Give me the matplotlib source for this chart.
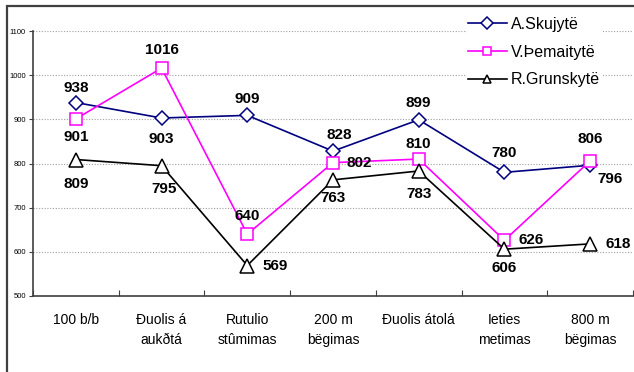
import matplotlib
matplotlib.use("Agg")
import matplotlib.pyplot as plt
from matplotlib.patches import Rectangle

categories = ["100 b/b", "Đuolis á\naukðtá", "Rutulio\nstûmimas", "200 m\nbëgimas",
              "Đuolis átolá", "Ieties\nmetimas", "800 m\nbëgimas"]
names = ["A.Skujytë", "V.Þemaitytë", "R.Grunskytë"]
skujyte = [938, 903, 909, 828, 899, 780, 796]
zemaityte = [901, 1016, 640, 802, 810, 626, 806]
grunskyte = [809, 795, 569, 763, 783, 606, 618]
yticks = [500, 600, 700, 800, 900, 1000, 1100]

plt.rcParams['font.family'] = ['Liberation Sans', 'DejaVu Sans']

W, H = 634, 372
fig = plt.figure(figsize=(W/100, H/100), dpi=100)

# outer frame
fig.patches.append(Rectangle((7/W, -0.05), 1.1, (H-6)/H + 0.05, transform=fig.transFigure,
                             fill=False, edgecolor='#404040', linewidth=1.6, zorder=0))

ax = fig.add_axes([33/W, (H-296)/H, 600/W, (296-31)/H])
x = list(range(len(categories)))
styles = [
    (skujyte, '#000080', 'D', 7.5),
    (zemaityte, '#FF00FF', 's', 9),
    (grunskyte, 'black', '^', 10.5),
]
for (vals, c, m, ms), nm in zip(styles, names):
    ax.plot(x, vals, color=c, marker=m, markersize=ms, markerfacecolor='white',
            markeredgecolor=c, markeredgewidth=1.1, linewidth=1.2, label=nm, zorder=3)

ax.set_xlim(-0.5, len(categories) - 0.5)
ax.set_ylim(500, 1100)
ax.set_yticks(yticks)
ax.set_yticklabels([str(v) for v in yticks], fontsize=5.5)
ax.set_xticks([i - 0.5 for i in range(len(categories) + 1)], minor=False)
ax.set_xticklabels([])
ax.set_xticks(x, minor=True)
ax.set_xticklabels(categories, minor=True, fontsize=10, linespacing=1.55)
ax.tick_params(axis='x', which='minor', length=0, pad=12)
ax.tick_params(axis='x', which='major', length=4, direction='in', color='#404040')
ax.tick_params(axis='y', length=3, direction='out', pad=2, color='#404040')
for s in ['top', 'right']:
    ax.spines[s].set_visible(False)
for s in ['left', 'bottom']:
    ax.spines[s].set_color('#404040')
    ax.spines[s].set_linewidth(1.2)
for v in yticks[1:]:
    ax.axhline(v, color='#a0a0a0', linestyle=(0, (1, 1.5)), linewidth=0.8, zorder=1)

# label offsets in pixels (dx, dy); positive dy = up
offs_a = [(0, 15), (0, -21), (0, 16), (6, 16), (0, 17), (0, 19), (20, -14)]
offs_z = [(0, -18), (0, 18), (0, 18), (26, 0), (0, 15), (27, 0), (0, 22)]
offs_g = [(0, -24), (2, -23), (28, 0), (0, -18), (0, -23), (0, -19), (28, 0)]
for vals, offs in [(skujyte, offs_a), (zemaityte, offs_z), (grunskyte, offs_g)]:
    for i, (v, (dx, dy)) in enumerate(zip(vals, offs)):
        ax.annotate(str(v), (i, v), xytext=(dx * 0.72, dy * 0.72), textcoords='offset points',
                    ha='center', va='center', fontsize=11, fontweight='bold', zorder=5)

leg = fig.legend(loc='upper left', bbox_to_anchor=(459/W, 1 - 8/H), frameon=True,
                 fontsize=11.5, handlelength=2.45, handletextpad=0.25, labelspacing=0.8,
                 borderpad=0.05)
leg.get_frame().set_facecolor('white')
leg.get_frame().set_edgecolor('white')
leg.get_frame().set_alpha(1)
leg.get_frame().set_boxstyle('square', pad=0)
for h in leg.legend_handles:
    h.set_markersize(6)

fig.savefig("out.png", dpi=100)
